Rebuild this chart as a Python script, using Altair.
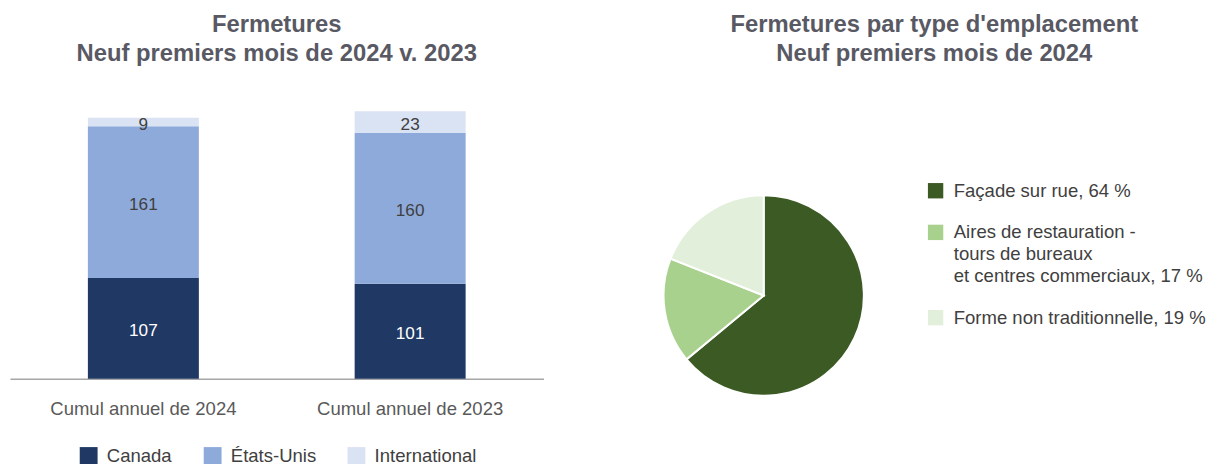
import altair as alt
import pandas as pd

FONT = "Liberation Sans"

# ---- data ----
periods = ["Cumul annuel de 2024", "Cumul annuel de 2023"]
regions = ["Canada", "États-Unis", "International"]
canada = [107, 101]
usa = [161, 160]
intl = [9, 23]
region_colors = ["#203864", "#8eaadb", "#dae3f3"]
region_text_colors = ["#ffffff", "#404040", "#404040"]

loc_types = [
    "Façade sur rue, 64 %",
    "Aires de restauration -|tours de bureaux|et centres commerciaux, 17 %",
    "Forme non traditionnelle, 19 %",
]
loc_share = [64, 17, 19]
loc_colors = ["#3b5a24", "#a9d18e", "#e2efda"]

rows = []
for i, p in enumerate(periods):
    for j, (r, vals) in enumerate(zip(regions, [canada, usa, intl])):
        rows.append({"period": p, "region": r, "value": vals[i], "order": j})
bar_df = pd.DataFrame(rows)

pie_df = pd.DataFrame({"type": loc_types, "share": loc_share, "order": [0, 1, 2]})

TITLE_COLOR = "#595964"
LABEL_SIZE = 18.67

base = (
    alt.Chart(bar_df)
    .transform_stack(stack="value", groupby=["period"], sort=[alt.SortField("order")], as_=["y0", "y1"])
    .transform_calculate(mid="(datum.y0 + datum.y1) / 2")
)

xenc = alt.X(
    "period:N",
    sort=periods,
    scale=alt.Scale(paddingInner=0.584, paddingOuter=0.292),
    axis=alt.Axis(
        title=None, labelAngle=0, ticks=False, domainColor="#a6a6a6", domainWidth=1.5,
        labelFontSize=LABEL_SIZE, labelColor="#595959", labelFont=FONT, labelPadding=21,
        labelLimit=0,
    ),
)
yscale = alt.Scale(domain=[0, 300], nice=False)

bars = base.mark_bar().encode(
    x=xenc,
    y=alt.Y("y0:Q", scale=yscale, axis=None),
    y2="y1:Q",
    color=alt.Color(
        "region:N",
        scale=alt.Scale(domain=regions, range=region_colors),
        legend=alt.Legend(
            title=None, orient="none", direction="horizontal", columns=3,
            legendX=70, legendY=353, symbolType="square", symbolSize=324,
            symbolStrokeWidth=0, labelFontSize=LABEL_SIZE, labelColor="#404040",
            labelFont=FONT, labelOffset=9, columnPadding=31,
        ),
    ),
)
labels = base.mark_text(fontSize=17.33, font=FONT, dy=3).encode(
    x=alt.X("period:N", sort=periods),
    y=alt.Y("mid:Q", scale=yscale),
    text="value:Q",
    color=alt.Color("region:N", scale=alt.Scale(domain=regions, range=region_text_colors), legend=None),
)

left = alt.layer(bars, labels).resolve_scale(color="independent").properties(
    width=538,
    height=285,
    title=alt.TitleParams(
        text=["Fermetures", "Neuf premiers mois de 2024 v. 2023"],
        font=FONT, fontSize=24, fontWeight="bold", color=TITLE_COLOR,
        lineHeight=30, anchor="middle", frame="group", offset=30,
    ),
)

pie = alt.Chart(pie_df).mark_arc(radius=101, stroke="white", strokeWidth=2).encode(
    theta=alt.Theta("share:Q", stack=True),
    order=alt.Order("order:Q"),
    color=alt.Color(
        "type:N",
        scale=alt.Scale(domain=loc_types, range=loc_colors),
        legend=alt.Legend(
            title=None, orient="none", legendX=274, legendY=86,
            symbolType="square", symbolSize=240, symbolStrokeWidth=0,
            labelFontSize=LABEL_SIZE, labelColor="#404040", labelFont=FONT, labelLimit=0,
            labelOffset=9, rowPadding=22, labelExpr="split(datum.label, '|')",
        ),
    ),
    x=alt.value(110),
    y=alt.value(201),
).properties(
    width=550,
    height=285,
    title=alt.TitleParams(
        text=["Fermetures par type d'emplacement", "Neuf premiers mois de 2024"],
        font=FONT, fontSize=24, fontWeight="bold", color=TITLE_COLOR,
        lineHeight=30, anchor="middle", frame="group", offset=30, dx=7,
    ),
)

chart = (
    alt.hconcat(left, pie, spacing=112)
    .resolve_scale(color="independent")
    .resolve_legend(color="independent")
    .properties(padding={"left": 2, "top": 3, "right": 0, "bottom": 0})
    .configure_view(stroke=None)
)
chart.config["style"] = {"guide-label": {"lineHeight": 22}}

chart.save("out.html", embed_options={"renderer": "svg", "actions": False})
